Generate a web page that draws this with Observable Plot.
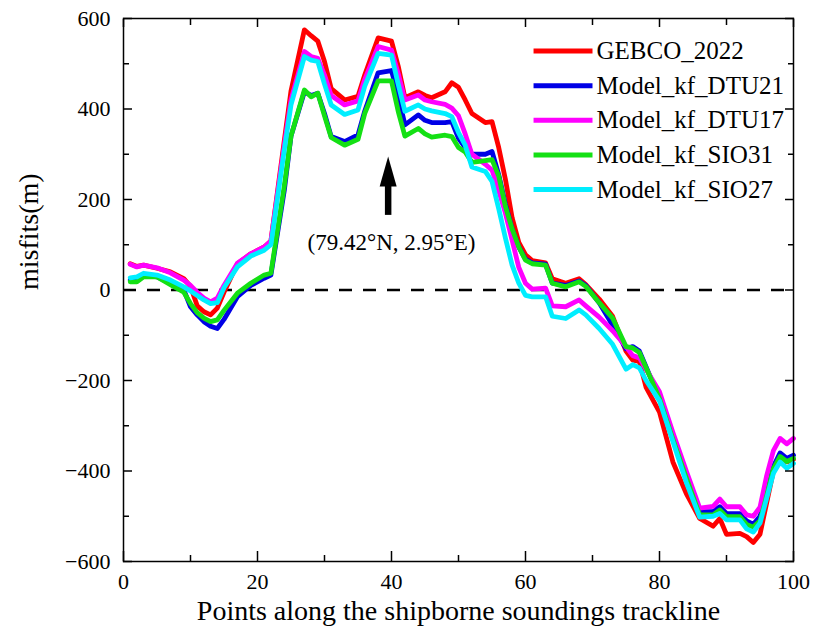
<!DOCTYPE html>
<html>
<head>
<meta charset="utf-8">
<script src="https://cdn.jsdelivr.net/npm/d3@7"></script>
<script src="https://cdn.jsdelivr.net/npm/@observablehq/plot@0.6"></script>
<style>
  body { margin: 0; background: #fff; }
  #chart svg { display: block; }
</style>
</head>
<body>
<div id="chart"></div>
<script>
// Point index along the trackline (shared by every series)
const points = [1, 2, 3, 5, 7, 9, 10, 11, 12, 13, 14, 15, 17, 19, 21, 22, 24, 25, 27, 28,
  29, 30, 31, 33, 35, 36, 38, 40, 41, 42, 44, 45, 46, 48, 49, 50, 51, 52, 54, 55,
  56, 57, 58, 59, 60, 61, 63, 64, 66, 68, 69, 71, 73, 75, 76, 77, 78, 80, 82, 84,
  86, 88, 89, 90, 92, 93, 94, 95, 96, 97, 98, 99, 100];

// Misfits (m) for each model
const gebco2022 = [58, 52, 55, 48, 40, 25, 8, -35, -48, -55, -40, -5, 58, 80, 95, 108, 330, 440, 575, 562,
  550, 505, 445, 420, 428, 475, 557, 550, 495, 425, 438, 430, 425, 438, 458, 448, 420, 390, 370, 372,
  315, 245, 160, 105, 78, 65, 60, 25, 15, 25, 12, -20, -58, -135, -155, -158, -215, -270, -380, -450,
  -505, -522, -505, -540, -538, -545, -558, -540, -470, -400, -368, -380, -374];
const kfDTU21 = [22, 20, 33, 29, 15, 0, -37, -55, -70, -80, -85, -65, -15, 10, 26, 33, 220, 340, 438, 430,
  435, 390, 339, 328, 343, 395, 480, 485, 430, 365, 387, 375, 370, 370, 372, 335, 315, 300, 300, 306,
  255, 190, 135, 95, 68, 60, 57, 15, 10, 20, 10, -28, -78, -130, -125, -135, -170, -240, -330, -410,
  -490, -490, -479, -494, -494, -510, -518, -500, -450, -390, -360, -372, -365];
const kfDTU17 = [57, 51, 55, 49, 38, 22, 10, -5, -18, -26, -18, 10, 59, 80, 95, 108, 320, 420, 527, 516,
  512, 475, 430, 409, 418, 465, 538, 530, 478, 420, 431, 420, 416, 410, 402, 385, 345, 300, 278, 265,
  220, 170, 110, 50, 15, 2, 4, -35, -37, -22, -35, -60, -90, -125, -145, -150, -175, -225, -315, -400,
  -482, -478, -462, -479, -479, -497, -500, -480, -410, -355, -328, -340, -328];
const kfSIO31 = [18, 18, 29, 29, 12, -5, -30, -50, -62, -70, -66, -45, -7, 15, 33, 37, 230, 340, 442, 427,
  435, 385, 337, 320, 333, 390, 462, 462, 395, 340, 357, 345, 338, 342, 339, 315, 305, 282, 286, 288,
  252, 185, 135, 95, 66, 58, 55, 15, 7, 18, 8, -28, -62, -125, -128, -138, -172, -240, -330, -415,
  -497, -497, -486, -501, -501, -518, -524, -510, -455, -395, -368, -379, -372];
const kfSIO27 = [27, 29, 37, 33, 22, 7, -2, -12, -22, -30, -28, 5, 51, 75, 88, 100, 310, 409, 516, 508,
  505, 455, 409, 388, 398, 450, 523, 519, 455, 395, 409, 400, 396, 390, 383, 348, 320, 272, 262, 240,
  180, 115, 55, 15, -12, -15, -15, -58, -63, -44, -55, -85, -120, -175, -165, -172, -200, -245, -335, -425,
  -502, -500, -494, -508, -508, -528, -535, -515, -460, -405, -380, -394, -383];

const seriesNames = ["GEBCO_2022", "Model_kf_DTU21", "Model_kf_DTU17", "Model_kf_SIO31", "Model_kf_SIO27"];
const seriesValues = [gebco2022, kfDTU21, kfDTU17, kfSIO31, kfSIO27];
const seriesColors = ["#ff0000", "#0000e6", "#ff00ff", "#14e014", "#00eeff"];

const xTicks = [0, 20, 40, 60, 80, 100];
const xMinorTicks = [10, 30, 50, 70, 90];
const yTicks = [-600, -400, -200, 0, 200, 400, 600];
const yMinorTicks = [-500, -300, -100, 100, 300, 500];

const xTitle = "Points along the shipborne soundings trackline";
const yTitle = "misfits(m)";

// Location marker: arrow at point 39.5 pointing up, with its coordinates below
const markerLabel = "(79.42°N, 2.95°E)";
const markerPoint = 39.5;
const markerTail = 166;
const markerTip = 295;
const markerLabelPoint = 40;
const markerLabelValue = 104;

// Tidy rows for the line mark
const rows = seriesNames.flatMap((name, i) =>
  points.map((p, j) => ({ point: p, misfit: seriesValues[i][j], series: name }))
);

// Legend rows laid out in data space near the top right of the frame
const legendRows = seriesNames.map((name, i) => ({ name, row: i }));
const legendX1 = 61.2, legendX2 = 70, legendTextX = 70.6;
const legendTop = 528, legendStep = 76.5;
const legendY = d => legendTop - d.row * legendStep;

// Filled arrowhead: tip at the anchor, base 30px below it
const arrowHead = {
  draw(context) {
    context.moveTo(0, 0);
    context.lineTo(8.5, 30);
    context.lineTo(-8.5, 30);
    context.closePath();
  }
};

const blank = () => "";

const chart = Plot.plot({
  width: 813,
  height: 637,
  marginLeft: 123,
  marginRight: 20,
  marginTop: 18,
  marginBottom: 76,
  style: { fontFamily: "'Liberation Serif', 'Times New Roman', serif", color: "#000", background: "#fff" },
  x: { domain: [0, 100] },
  y: { domain: [-600, 600] },
  color: { domain: seriesNames, range: seriesColors },
  marks: [
    Plot.ruleY([0], { stroke: "#000", strokeWidth: 2.5, strokeDasharray: "13,11" }),
    Plot.line(rows, {
      x: "point", y: "misfit", z: "series", stroke: "series",
      strokeWidth: 4.8, strokeLinejoin: "round", strokeLinecap: "round", curve: "linear"
    }),
    Plot.frame({ stroke: "#000", strokeWidth: 1.5 }),
    // bottom axis: labelled major ticks + minor ticks, drawn inward
    Plot.axisX(xTicks, { anchor: "bottom", tickSize: -10, tickPadding: 22, fontSize: 22, label: null, strokeWidth: 1.5 }),
    Plot.axisX(xMinorTicks, { anchor: "bottom", tickSize: -6, tickFormat: blank, label: null, strokeWidth: 1.5 }),
    // top axis ticks only
    Plot.axisX(xTicks, { anchor: "top", tickSize: -8, tickFormat: blank, label: null, strokeWidth: 1.5 }),
    Plot.axisX(xMinorTicks, { anchor: "top", tickSize: -6, tickFormat: blank, label: null, strokeWidth: 1.5 }),
    // left axis
    Plot.axisY(yTicks, { anchor: "left", tickSize: -9, tickPadding: 22, fontSize: 22, label: null, strokeWidth: 1.5 }),
    Plot.axisY(yMinorTicks, { anchor: "left", tickSize: -6, tickFormat: blank, label: null, strokeWidth: 1.5 }),
    // right axis ticks only
    Plot.axisY(yTicks, { anchor: "right", tickSize: -9, tickFormat: blank, label: null, strokeWidth: 1.5 }),
    Plot.axisY(yMinorTicks, { anchor: "right", tickSize: -6, tickFormat: blank, label: null, strokeWidth: 1.5 }),
    // axis titles
    Plot.text([xTitle], { frameAnchor: "bottom", dy: 58, fontSize: 28, fill: "#000" }),
    Plot.text([yTitle], { frameAnchor: "left", dx: -94, rotate: -90, fontSize: 28, fill: "#000" }),
    // legend
    Plot.link(legendRows, {
      x1: () => legendX1, x2: () => legendX2, y1: legendY, y2: legendY,
      stroke: "name", strokeWidth: 5
    }),
    Plot.text(legendRows, {
      x: () => legendTextX, y: legendY, text: "name",
      textAnchor: "start", fontSize: 25, fill: "#000"
    }),
    // location marker
    Plot.link([markerLabel], {
      x1: () => markerPoint, x2: () => markerPoint,
      y1: () => markerTail, y2: () => markerTip - 60,
      stroke: "#000", strokeWidth: 6.5
    }),
    Plot.dot([markerLabel], {
      x: () => markerPoint, y: () => markerTip,
      symbol: arrowHead, fill: "#000", stroke: "none"
    }),
    Plot.text([markerLabel], {
      x: () => markerLabelPoint, y: () => markerLabelValue,
      text: d => d, fontSize: 23, fill: "#000"
    })
  ]
});

document.getElementById("chart").appendChild(chart);
</script>
</body>
</html>
